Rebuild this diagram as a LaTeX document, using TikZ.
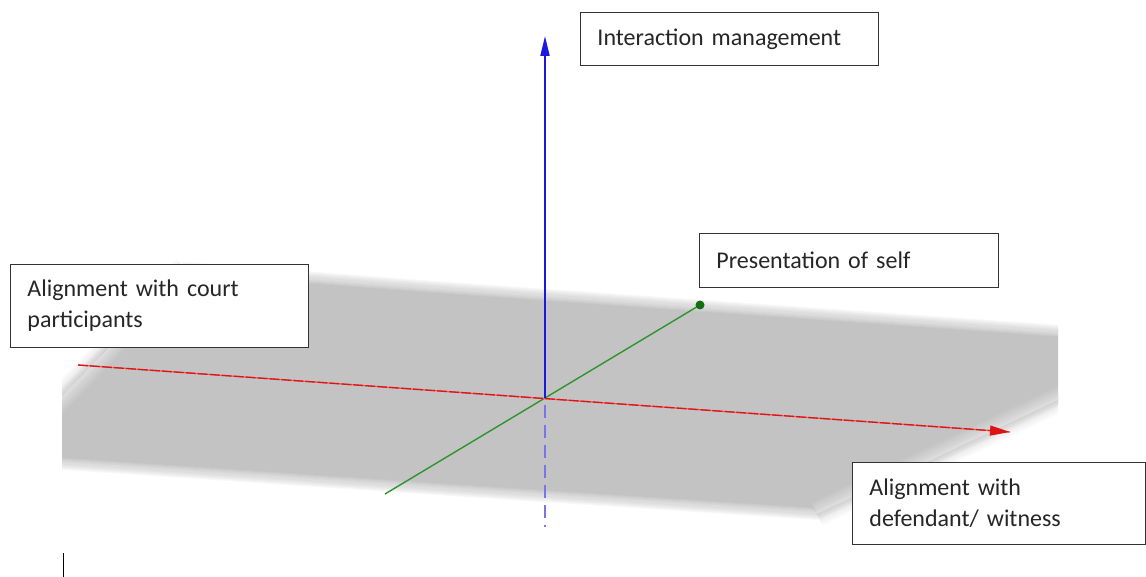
\documentclass[tikz,border=0pt]{standalone}
\usepackage{fontspec}
\setmainfont{Carlito}
\usetikzlibrary{arrows.meta}

\definecolor{planegray}{RGB}{195,195,195}
\definecolor{axisblue}{RGB}{25,25,225}
\definecolor{axisred}{RGB}{220,20,20}
\definecolor{axisgreen}{RGB}{45,150,45}
\definecolor{dotgreen}{RGB}{20,110,20}

\tikzset{
  labelbox/.style={draw=black!80, line width=0.9pt, fill=white,
    inner xsep=17pt, inner ysep=0pt, align=left, anchor=north west,
    font=\fontsize{24}{31}\selectfont, text=black!85},
}

% soft edge along an open path: gray fading outwards, white fading inwards
% #1 = number of layers, #2 = opacity per layer, #3 = path
\newcommand\softedge[3]{%
  \foreach \i in {1,...,#1}
    \draw[planegray, opacity=#2, line width=2*\i pt, line cap=butt,
          line join=round] #3;
  \begin{scope}
    \clip \planepath;
    \foreach \i in {1,...,#1}
      \draw[white, opacity=#2, line width=2*\i pt, line cap=butt,
            line join=round] #3;
  \end{scope}}

\begin{document}
\begin{tikzpicture}[x=1pt, y=-1pt]
  \useasboundingbox (0,0) rectangle (1146,577);

  % horizontal plane, cut off sharply on the left and right
  \def\planepath{(20,440) -- (185,268) -- (450,288) -- (1090,333)
                 -- (1090,385) -- (817,514) -- (450,490) -- (20,461) -- cycle}
  \begin{scope}
    \clip (62,0) rectangle (1058,577);
    \fill[planegray] \planepath;
    % narrow fade along the long edges, wide fade on the cut corners
    \softedge{6}{0.11}{(20,440) -- (185,268) -- (450,288) -- (1090,333)}
    \softedge{6}{0.11}{(20,461) -- (450,490) -- (817,514) -- (1090,385)}
    \softedge{13}{0.045}{(1090,385) -- (817,514)}
    \softedge{13}{0.045}{(20,440) -- (185,268)}
  \end{scope}

  % axes
  \coordinate (O) at (545,398);
  \coordinate (zTop) at (545,36);
  \coordinate (zBot) at (545,527);
  \coordinate (xNeg) at (78,365);
  \coordinate (xPos) at (1010,432);
  \coordinate (yNeg) at (385,494);
  \coordinate (yPos) at (700,305);

  \draw[axisblue!60, line width=1.8pt, dash pattern=on 13pt off 7pt,
        dash phase=-7pt] (O) -- (zBot);
  \draw[axisgreen, line width=1.4pt] (yNeg) -- (yPos);
  \fill[dotgreen] (yPos) circle (4.5pt);
  \draw[axisred!65, line width=1.3pt] (xNeg) -- (xPos);
  \draw[axisred, line width=1.3pt, dash pattern=on 10pt off 2pt,
        -{Triangle[length=20pt, width=10pt]}] (xNeg) -- (xPos);
  \draw[axisblue, line width=2pt,
        -{Triangle[length=20pt, width=9pt]}] (O) -- (zTop);

  % axis labels
  \node[labelbox, minimum width=298pt, minimum height=53pt, text width=264pt]
    (interaction) at (580,12) {Interaction management};
  \node[labelbox, minimum width=299pt, minimum height=54pt, text width=265pt]
    (self) at (699,233) {Presentation of self};
  \node[labelbox, minimum width=298pt, minimum height=83pt, text width=264pt]
    (court) at (10,264) {Alignment with court\\participants};
  \node[labelbox, minimum width=293pt, minimum height=82pt, text width=259pt]
    (defendant) at (852,462) {Alignment with\\defendant/ witness};

  % text cursor mark
  \draw[black, line width=1pt] (63,553) -- (63,577);
\end{tikzpicture}
\end{document}
